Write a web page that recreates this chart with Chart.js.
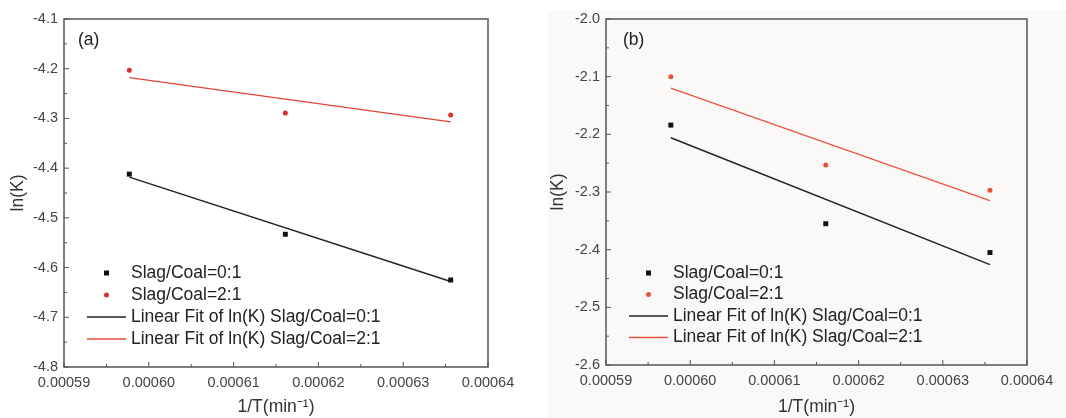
<!DOCTYPE html>
<html>
<head>
<meta charset="utf-8">
<script src="https://cdn.jsdelivr.net/npm/chart.js@4"></script>
<style>
  body { margin: 0; background: #fff; }
  canvas { position: absolute; top: 0; }
  #chartA { left: 0; }
  #chartB { left: 530px; }
</style>
</head>
<body>
<canvas id="chartA" width="530" height="418"></canvas>
<canvas id="chartB" width="536" height="418"></canvas>
<script>
// data
const invT = [0.0005977, 0.0006161, 0.0006356];
const fitX = [0.0005977, 0.0006356];

// panel (a)
const aSlag01 = [-4.412, -4.533, -4.625];
const aSlag21 = [-4.203, -4.289, -4.293];
const aFit01 = [-4.418, -4.628];
const aFit21 = [-4.218, -4.307];

// panel (b)
const bSlag01 = [-2.184, -2.355, -2.405];
const bSlag21 = [-2.100, -2.253, -2.297];
const bFit01 = [-2.206, -2.426];
const bFit21 = [-2.120, -2.315];

const legendLabels = [
  "Slag/Coal=0:1",
  "Slag/Coal=2:1",
  "Linear Fit of ln(K) Slag/Coal=0:1",
  "Linear Fit of ln(K) Slag/Coal=2:1"
];

const FONT = "'Liberation Sans', Arial, sans-serif";

function pts(xs, ys) {
  return xs.map((x, i) => ({ x: x, y: ys[i] }));
}

// box, inward ticks, panel letter and the legend inside the plot
const framePlugin = {
  id: "frame",
  beforeDraw(chart, args, o) {
    if (!o.bg) return;
    const ctx = chart.ctx;
    ctx.save();
    ctx.fillStyle = o.bg;
    ctx.fillRect(18, 10, chart.width, chart.height);
    ctx.restore();
  },
  afterDraw(chart, args, o) {
    const ctx = chart.ctx;
    const a = chart.chartArea;
    const xs = chart.scales.x, ys = chart.scales.y;
    ctx.save();
    ctx.strokeStyle = "#555";
    ctx.lineWidth = 1.5;
    ctx.strokeRect(a.left, a.top, a.right - a.left, a.bottom - a.top);

    // ticks pointing into the plot
    ctx.lineWidth = 1;
    ctx.beginPath();
    for (let i = 0; i <= 10; i++) {
      const v = xs.min + i * (xs.max - xs.min) / 10;
      const px = xs.getPixelForValue(v);
      const len = i % 2 === 0 ? 5 : 3;
      ctx.moveTo(px, a.bottom);
      ctx.lineTo(px, a.bottom - len);
    }
    const nY = Math.round((ys.max - ys.min) / 0.05);
    for (let i = 0; i <= nY; i++) {
      const v = ys.min + i * 0.05;
      const py = ys.getPixelForValue(v);
      const len = i % 2 === 0 ? 5 : 3;
      ctx.moveTo(a.left, py);
      ctx.lineTo(a.left + len, py);
    }
    ctx.stroke();

    // panel letter
    ctx.fillStyle = "#222";
    ctx.font = "17.5px " + FONT;
    ctx.textBaseline = "middle";
    ctx.textAlign = "left";
    ctx.fillText(o.letter, a.left + o.letterX, 40);

    // legend
    const ds = chart.data.datasets;
    ctx.font = "17.5px " + FONT;
    ctx.fillStyle = "#222";
    for (let i = 0; i < ds.length; i++) {
      const y = a.bottom + o.legTop + i * o.legGap;
      const d = ds[i];
      if (d.showLine) {
        ctx.strokeStyle = d.borderColor;
        ctx.lineWidth = d.borderWidth;
        ctx.beginPath();
        ctx.moveTo(a.left + 23, y);
        ctx.lineTo(a.left + 62, y);
        ctx.stroke();
      } else {
        ctx.fillStyle = d.backgroundColor;
        if (d.pointStyle === "rect") {
          ctx.fillRect(a.left + 40, y - 2.5, 5, 5);
        } else {
          ctx.beginPath();
          ctx.arc(a.left + 42.5, y, 2.5, 0, Math.PI * 2);
          ctx.fill();
        }
      }
      ctx.fillStyle = "#222";
      ctx.fillText(d.label, a.left + 67, y);
    }
    ctx.restore();
  }
};

function makePanel(id, s01, s21, f01, f21, yMin, yMax, p) {
  const ctx = document.getElementById(id).getContext("2d");
  return new Chart(ctx, {
    type: "scatter",
    data: {
      datasets: [
        {
          label: legendLabels[0],
          data: pts(invT, s01),
          pointStyle: "rect",
          pointRadius: 3.5,
          backgroundColor: "#111",
          borderColor: "#111",
          borderWidth: 0,
          showLine: false
        },
        {
          label: legendLabels[1],
          data: pts(invT, s21),
          pointStyle: "circle",
          pointRadius: 2.5,
          backgroundColor: p.red,
          borderColor: p.red,
          borderWidth: 0,
          showLine: false
        },
        {
          label: legendLabels[2],
          data: pts(fitX, f01),
          showLine: true,
          pointRadius: 0,
          borderColor: "#222",
          backgroundColor: "#222",
          borderWidth: 1.5
        },
        {
          label: legendLabels[3],
          data: pts(fitX, f21),
          showLine: true,
          pointRadius: 0,
          borderColor: p.redLine,
          backgroundColor: p.redLine,
          borderWidth: 1.3
        }
      ]
    },
    options: {
      responsive: false,
      animation: false,
      devicePixelRatio: 1,
      layout: { padding: { top: 19, right: p.padRight, left: 0, bottom: 0 } },
      plugins: {
        legend: { display: false },
        tooltip: { enabled: false },
        frame: p.frame
      },
      scales: {
        x: {
          type: "linear",
          min: 0.00059,
          max: 0.00064,
          grid: { display: false, drawTicks: false },
          border: { display: false },
          ticks: {
            stepSize: 0.00001,
            padding: 7,
            color: "#444",
            font: { family: FONT, size: 14.5 },
            maxRotation: 0,
            callback: v => v.toFixed(5)
          },
          title: {
            display: true,
            text: "1/T(min\u207B\u00B9)",
            color: "#333",
            font: { family: FONT, size: 17.5 },
            padding: { top: 0, bottom: 0 }
          },
          afterFit: sc => { sc.height = p.xH; }
        },
        y: {
          min: yMin,
          max: yMax,
          grid: { display: false, drawTicks: false },
          border: { display: false },
          ticks: {
            stepSize: 0.1,
            padding: 6,
            color: "#444",
            font: { family: FONT, size: 14.5 },
            callback: v => v.toFixed(1)
          },
          title: {
            display: true,
            text: "ln(K)",
            color: "#333",
            font: { family: FONT, size: 17.5 },
            padding: { top: p.yTitlePad, bottom: 0 }
          },
          afterFit: sc => { sc.width = p.yW; }
        }
      }
    },
    plugins: [framePlugin]
  });
}

makePanel("chartA", aSlag01, aSlag21, aFit01, aFit21, -4.8, -4.1, {
  red: "#d8302a",
  redLine: "#e2443c",
  padRight: 42,
  xH: 51,
  yW: 64,
  yTitlePad: 8,
  frame: { letter: "(a)", letterX: 14, legTop: -94, legGap: 22 }
});

makePanel("chartB", bSlag01, bSlag21, bFit01, bFit21, -2.6, -2.0, {
  red: "#e4533a",
  redLine: "#e8553f",
  padRight: 39,
  xH: 53,
  yW: 76,
  yTitlePad: 18,
  frame: { letter: "(b)", letterX: 17, legTop: -92, legGap: 21.5, bg: "#fbf9f7" }
});
</script>
</body>
</html>
